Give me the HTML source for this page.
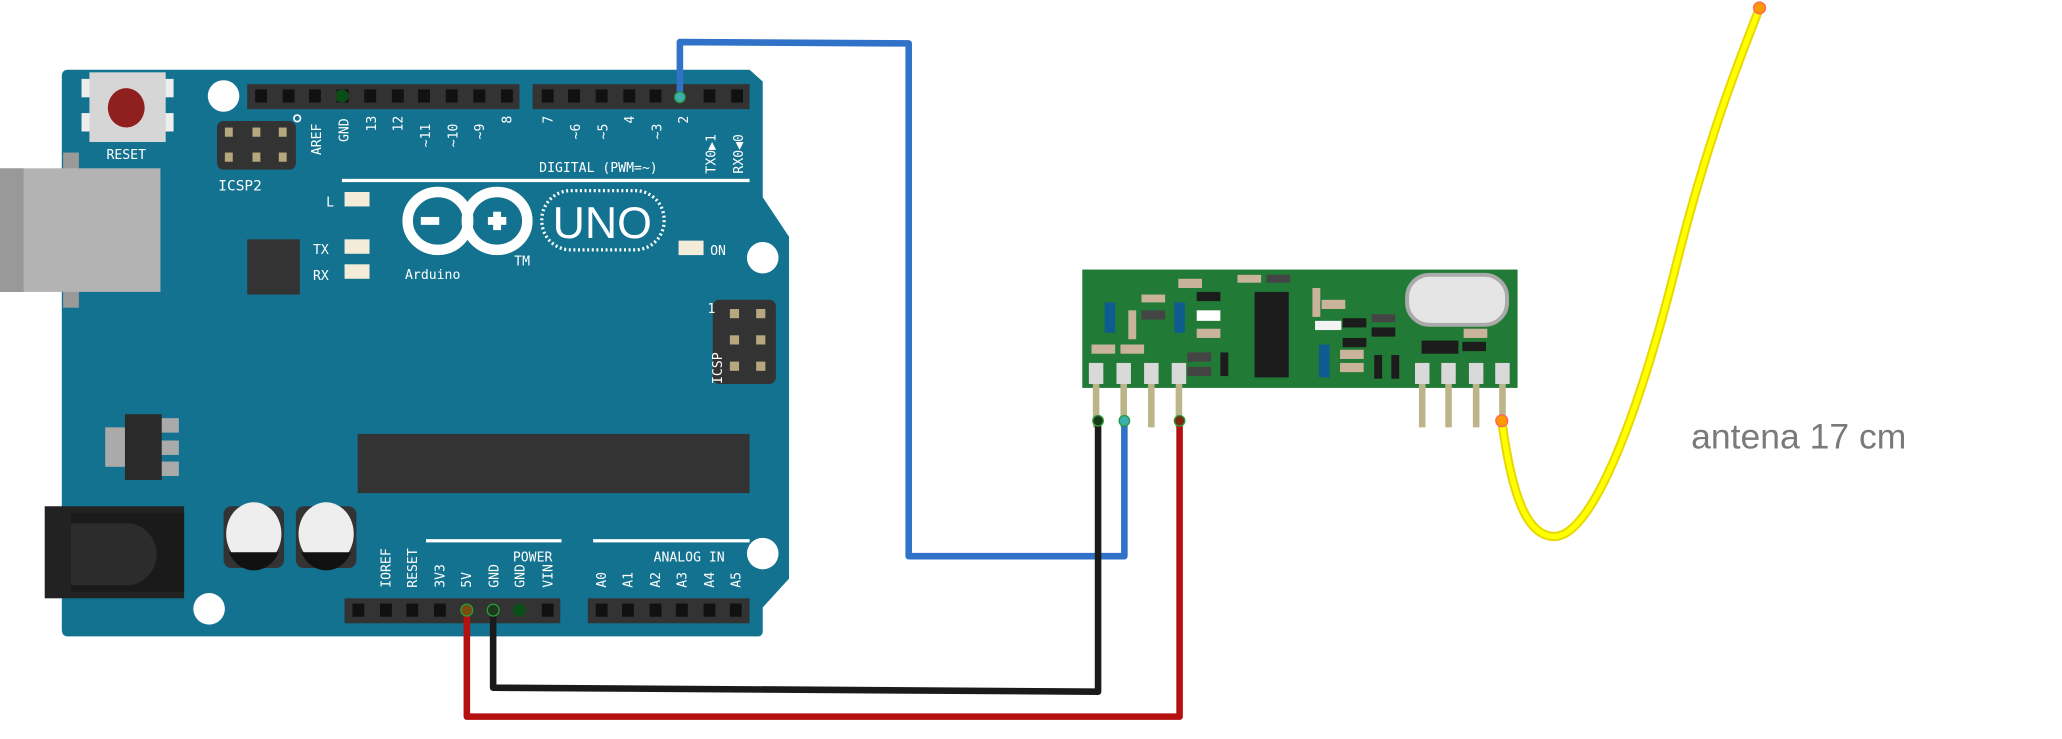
<!DOCTYPE html>
<html><head><meta charset="utf-8"><style>
html,body{margin:0;padding:0;background:#fff;width:2062px;height:739px;overflow:hidden}
svg{display:block}
.w{font-family:"DejaVu Sans Mono","Liberation Mono",monospace;fill:#fff;font-size:10px}
</style></head><body>
<svg width="2062" height="739" viewBox="0 0 1568 562" preserveAspectRatio="none" xmlns="http://www.w3.org/2000/svg">
<!-- board -->
<path d="M52 53 H570 L580 62 V150 L600 180 V440 L580 462 V480 Q580 484 576 484 H52 Q47 484 47 479 V58 Q47 53 52 53Z" fill="#13728f"/>
<!-- USB -->
<rect x="48" y="116" width="12" height="118" fill="#9a9a9a"/>
<rect x="0" y="128" width="122" height="94" fill="#b3b3b3"/>
<rect x="0" y="128" width="18" height="94" fill="#999"/>
<!-- reset -->
<rect x="62" y="60" width="70" height="14" fill="#eee"/>
<rect x="62" y="86" width="70" height="14" fill="#eee"/>
<rect x="68" y="55" width="58" height="53" fill="#d6d6d6"/>
<ellipse cx="96" cy="82" rx="14" ry="15" fill="#902020"/>
<text x="96" y="121" class="w" text-anchor="middle" font-size="11">RESET</text>
<!-- holes -->
<circle cx="170" cy="73" r="12" fill="#fff"/>
<circle cx="580" cy="196" r="12" fill="#fff"/>
<circle cx="580" cy="421" r="12" fill="#fff"/>
<circle cx="159" cy="463" r="12" fill="#fff"/>
<!-- top headers -->
<rect x="188" y="64" width="207" height="19" fill="#333"/>
<rect x="405" y="64" width="165" height="19" fill="#333"/>
<g fill="#111">
<rect x="194" y="68" width="9" height="10"/><rect x="215" y="68" width="9" height="10"/><rect x="235" y="68" width="9" height="10"/><rect x="256" y="68" width="9" height="10"/><rect x="277" y="68" width="9" height="10"/><rect x="298" y="68" width="9" height="10"/><rect x="318" y="68" width="9" height="10"/><rect x="339" y="68" width="9" height="10"/><rect x="360" y="68" width="9" height="10"/><rect x="381" y="68" width="9" height="10"/>
<rect x="412" y="68" width="9" height="10"/><rect x="432" y="68" width="9" height="10"/><rect x="453" y="68" width="9" height="10"/><rect x="474" y="68" width="9" height="10"/><rect x="494" y="68" width="9" height="10"/><rect x="535" y="68" width="9" height="10"/><rect x="556" y="68" width="9" height="10"/>
</g>
<circle cx="260" cy="73" r="5" fill="#0b4d16"/>
<g class="w">
<text transform="translate(244,118) rotate(-90)">AREF</text>
<text transform="translate(265,108) rotate(-90)">GND</text>
<text transform="translate(286,100) rotate(-90)">13</text>
<text transform="translate(306,100) rotate(-90)">12</text>
<text transform="translate(327,112) rotate(-90)">~11</text>
<text transform="translate(348,112) rotate(-90)">~10</text>
<text transform="translate(368,106) rotate(-90)">~9</text>
<text transform="translate(389,94) rotate(-90)">8</text>
<text transform="translate(420,94) rotate(-90)">7</text>
<text transform="translate(441,106) rotate(-90)">~6</text>
<text transform="translate(462,106) rotate(-90)">~5</text>
<text transform="translate(482,94) rotate(-90)">4</text>
<text transform="translate(503,106) rotate(-90)">~3</text>
<text transform="translate(523,94) rotate(-90)">2</text>
<text transform="translate(544,132) rotate(-90)">TX0▶1</text>
<text transform="translate(565,132) rotate(-90)">RX0◀0</text>
<text x="410" y="131">DIGITAL (PWM=~)</text>
<text x="166" y="145" font-size="11">ICSP2</text>
</g>
<circle cx="226" cy="90" r="2.5" fill="none" stroke="#fff" stroke-width="1.3"/>
<rect x="260" y="136" width="310" height="2.5" fill="#fff"/>
<!-- ICSP2 -->
<rect x="165" y="92" width="60" height="37" rx="5" fill="#333"/>
<g fill="#b7a77f"><rect x="171" y="97" width="6" height="7"/><rect x="192" y="97" width="6" height="7"/><rect x="212" y="97" width="6" height="7"/><rect x="171" y="116" width="6" height="7"/><rect x="192" y="116" width="6" height="7"/><rect x="212" y="116" width="6" height="7"/></g>
<!-- LEDs -->
<g fill="#f3ecd8"><rect x="262" y="146" width="19" height="11"/><rect x="262" y="182" width="19" height="11"/><rect x="262" y="201" width="19" height="11"/><rect x="516" y="183" width="19" height="11"/></g>
<g class="w" font-size="13"><text x="248" y="157">L</text><text x="238" y="193">TX</text><text x="238" y="213">RX</text><text x="540" y="194">ON</text></g>
<rect x="188" y="182" width="40" height="42" fill="#333"/>
<!-- logo -->
<g fill="none" stroke="#fff" stroke-width="8">
<ellipse cx="333" cy="168" rx="23" ry="22"/><ellipse cx="378" cy="168" rx="23" ry="22"/>
</g>
<rect x="320" y="165" width="14" height="6" fill="#fff"/>
<rect x="371" y="165" width="14" height="6" fill="#fff"/><rect x="375" y="161" width="6" height="14" fill="#fff"/>
<rect x="412" y="145" width="93" height="45" rx="22" fill="none" stroke="#fff" stroke-width="2.5" stroke-dasharray="1.5 2"/>
<text x="458" y="181" text-anchor="middle" font-family="Liberation Sans,sans-serif" font-size="34" fill="#fff">UNO</text>
<text x="308" y="212" class="w" font-size="17">Arduino</text><text x="391" y="202" class="w" font-size="6">TM</text>
<!-- ICSP -->
<rect x="542" y="228" width="48" height="64" rx="5" fill="#333"/>
<g fill="#b7a77f"><rect x="555" y="235" width="7" height="7"/><rect x="575" y="235" width="7" height="7"/><rect x="555" y="255" width="7" height="7"/><rect x="575" y="255" width="7" height="7"/><rect x="555" y="275" width="7" height="7"/><rect x="575" y="275" width="7" height="7"/></g>
<text transform="translate(549,292) rotate(-90)" class="w" font-size="12">ICSP</text>
<text x="538" y="238" class="w" font-size="11">1</text>
<!-- regulator -->
<rect x="80" y="325" width="16" height="30" fill="#aaa"/>
<rect x="122" y="318" width="14" height="11" fill="#aaa"/><rect x="122" y="335" width="14" height="11" fill="#aaa"/><rect x="122" y="351" width="14" height="11" fill="#aaa"/>
<rect x="95" y="315" width="28" height="50" fill="#2a2a2a"/>
<!-- chip -->
<rect x="272" y="330" width="298" height="45" fill="#333"/>
<!-- jack -->
<rect x="34" y="385" width="106" height="70" fill="#222"/>
<rect x="54" y="390" width="86" height="60" fill="#1a1a1a"/>
<path d="M54 398 H100 A24 24 0 0 1 100 445 H54Z" fill="#2c2c2c"/>
<!-- caps -->
<rect x="170" y="385" width="46" height="47" rx="6" fill="#333"/>
<rect x="225" y="385" width="46" height="47" rx="6" fill="#333"/>
<ellipse cx="193" cy="406" rx="21" ry="24" fill="#eee"/><ellipse cx="248" cy="406" rx="21" ry="24" fill="#eee"/>
<path d="M174 420 H212 A21 24 0 0 1 174 420Z" fill="#111"/><path d="M229 420 H267 A21 24 0 0 1 229 420Z" fill="#111"/>
<!-- bottom headers -->
<rect x="324" y="410" width="103" height="2.5" fill="#fff"/><rect x="451" y="410" width="119" height="2.5" fill="#fff"/>
<g class="w"><text x="390" y="427">POWER</text><text x="497" y="427">ANALOG IN</text>
<text transform="translate(297,447) rotate(-90)">IOREF</text>
<text transform="translate(317,447) rotate(-90)">RESET</text>
<text transform="translate(338,447) rotate(-90)">3V3</text>
<text transform="translate(358,447) rotate(-90)">5V</text>
<text transform="translate(379,447) rotate(-90)">GND</text>
<text transform="translate(399,447) rotate(-90)">GND</text>
<text transform="translate(420,447) rotate(-90)">VIN</text>
<text transform="translate(461,447) rotate(-90)">A0</text>
<text transform="translate(481,447) rotate(-90)">A1</text>
<text transform="translate(502,447) rotate(-90)">A2</text>
<text transform="translate(522,447) rotate(-90)">A3</text>
<text transform="translate(543,447) rotate(-90)">A4</text>
<text transform="translate(563,447) rotate(-90)">A5</text>
</g>
<rect x="262" y="455" width="164" height="19" fill="#333"/>
<rect x="447" y="455" width="123" height="19" fill="#333"/>
<g fill="#111">
<rect x="268" y="459" width="9" height="10"/><rect x="289" y="459" width="9" height="10"/><rect x="309" y="459" width="9" height="10"/><rect x="330" y="459" width="9" height="10"/><rect x="412" y="459" width="9" height="10"/>
<rect x="453" y="459" width="9" height="10"/><rect x="473" y="459" width="9" height="10"/><rect x="494" y="459" width="9" height="10"/><rect x="514" y="459" width="9" height="10"/><rect x="535" y="459" width="9" height="10"/><rect x="555" y="459" width="9" height="10"/>
</g>
<circle cx="395" cy="464" r="5" fill="#0b4d16"/>
<!-- RF module -->
<rect x="823" y="205" width="331" height="90" fill="#217a36"/>
<rect x="1070" y="209" width="76" height="38" rx="17" fill="#e5e5e5" stroke="#aaa" stroke-width="3"/>
<g fill="#c9b39a">
<rect x="941" y="209" width="18" height="6"/><rect x="896" y="212" width="18" height="7"/><rect x="868" y="224" width="18" height="6"/><rect x="858" y="236" width="6" height="22"/><rect x="910" y="250" width="18" height="7"/><rect x="830" y="262" width="18" height="7"/><rect x="852" y="262" width="18" height="7"/><rect x="998" y="219" width="6" height="22"/><rect x="1005" y="228" width="18" height="7"/><rect x="1113" y="250" width="18" height="7"/><rect x="1019" y="266" width="18" height="7"/><rect x="1019" y="276" width="18" height="7"/>
</g>
<g fill="#1c1c1c">
<rect x="910" y="222" width="18" height="7"/><rect x="954" y="222" width="26" height="65"/><rect x="1021" y="242" width="18" height="7"/><rect x="1043" y="249" width="18" height="7"/><rect x="1021" y="257" width="18" height="7"/><rect x="1081" y="259" width="28" height="10"/><rect x="1112" y="260" width="18" height="7"/><rect x="928" y="268" width="6" height="18"/><rect x="1045" y="270" width="6" height="18"/><rect x="1058" y="270" width="6" height="18"/>
</g>
<g fill="#444"><rect x="868" y="236" width="18" height="7"/><rect x="963" y="209" width="18" height="6"/><rect x="1043" y="239" width="18" height="6"/><rect x="903" y="268" width="18" height="7"/><rect x="903" y="279" width="18" height="7"/></g>
<g fill="#0e5b92"><rect x="840" y="230" width="8" height="23"/><rect x="893" y="230" width="8" height="23"/><rect x="1003" y="262" width="8" height="25"/></g>
<rect x="910" y="236" width="18" height="8" fill="#fff"/><rect x="1000" y="244" width="20" height="7" fill="#f3f3f3"/>
<g fill="#bcb58a"><rect x="831" y="290" width="5" height="35"/><rect x="852" y="290" width="5" height="35"/><rect x="873" y="290" width="5" height="35"/><rect x="894" y="290" width="5" height="35"/><rect x="1079" y="290" width="5" height="35"/><rect x="1099" y="290" width="5" height="35"/><rect x="1120" y="290" width="5" height="35"/><rect x="1140" y="290" width="5" height="35"/></g>
<g fill="#d9d9d9"><rect x="828" y="276" width="11" height="16"/><rect x="849" y="276" width="11" height="16"/><rect x="870" y="276" width="11" height="16"/><rect x="891" y="276" width="11" height="16"/><rect x="1076" y="276" width="11" height="16"/><rect x="1096" y="276" width="11" height="16"/><rect x="1117" y="276" width="11" height="16"/><rect x="1137" y="276" width="11" height="16"/></g>
<!-- wires -->
<g fill="none" stroke-width="5" stroke-linejoin="round">
<polyline points="517,75 517,32 691,33 691,423 855,423 855,320" stroke="#2f72c8"/>
<polyline points="375,465 375,523 835,526 835,320" stroke="#1a1a1a"/>
<polyline points="355,465 355,545 897,545 897,320" stroke="#b51010"/>
<path d="M1142 320 C1150 380 1162 408 1182 408 C1210 408 1245 320 1275 200 C1300 100 1325 40 1338 6" stroke="#e8d800" stroke-width="7"/>
<path d="M1142 320 C1150 380 1162 408 1182 408 C1210 408 1245 320 1275 200 C1300 100 1325 40 1338 6" stroke="#ffff00" stroke-width="4"/>
</g>
<circle cx="517" cy="74" r="4" fill="#3ab0b0" stroke="#2a9a3a"/>
<circle cx="355" cy="464" r="4.5" fill="#7a4a10" stroke="#2a9a3a"/>
<circle cx="375" cy="464" r="4.5" fill="#1a3a1a" stroke="#2a9a3a"/>
<circle cx="835" cy="320" r="4" fill="#1a3a1a" stroke="#2a9a3a"/>
<circle cx="855" cy="320" r="4" fill="#3ab0b0" stroke="#2a9a3a"/>
<circle cx="897" cy="320" r="4" fill="#7a2a10" stroke="#2a9a3a"/>
<circle cx="1142" cy="320" r="4.5" fill="#ff9900" stroke="#ff6060"/>
<circle cx="1338" cy="6" r="4.5" fill="#ff9900" stroke="#ff6060"/>
<text x="1286" y="341" font-family="Liberation Sans,sans-serif" font-size="27" fill="#7a7a7a">antena 17 cm</text>
</svg>
</body></html>
